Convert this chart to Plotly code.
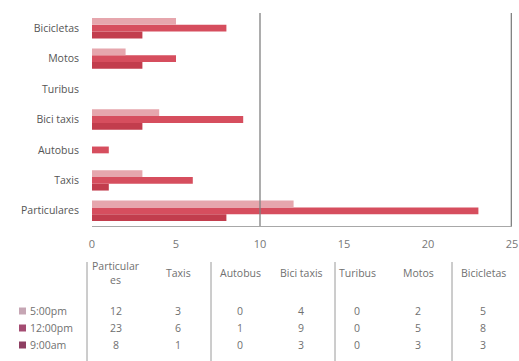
import plotly.graph_objects as go

categories = ["Particulares", "Taxis", "Autobus", "Bici taxis", "Turibus", "Motos", "Bicicletas"]
table_headers = ["Particular<br>es", "Taxis", "Autobus", "Bici taxis", "Turibus", "Motos", "Bicicletas"]
series_names = ["5:00pm", "12:00pm", "9:00am"]
v_5pm = [12, 3, 0, 4, 0, 2, 5]
v_12pm = [23, 6, 1, 9, 0, 5, 8]
v_9am = [8, 1, 0, 3, 0, 3, 3]
x_ticks = [0, 5, 10, 15, 20, 25]

bar_colors = {"5:00pm": "#e6a6ad", "12:00pm": "#d64e5e", "9:00am": "#c23d4d"}
key_colors = {"5:00pm": "#c6a6b4", "12:00pm": "#a44c72", "9:00am": "#8e3f62"}
values = {"5:00pm": v_5pm, "12:00pm": v_12pm, "9:00am": v_9am}

W, H = 519, 361
L, R, T, B = 92, 7, 13, 135
PW, PH = W - L - R, H - T - B

def px(xp):
    return (xp - L) / PW

def py(yp):
    return (H - B - yp) / PH

fig = go.Figure()
for name in ["9:00am", "12:00pm", "5:00pm"]:
    fig.add_trace(go.Bar(
        y=categories, x=values[name], name=name, orientation="h",
        marker=dict(color=bar_colors[name], line=dict(width=0)),
        showlegend=False,
    ))

font_fam = "Open Sans, Liberation Sans, sans-serif"
txt_col = "#6a6a6a"

fig.update_layout(
    width=W, height=H,
    margin=dict(l=L, r=R, t=T, b=B, autoexpand=False),
    paper_bgcolor="white", plot_bgcolor="white",
    barmode="group", bargap=0.33, bargroupgap=0.0,
    font=dict(family=font_fam, size=11, color=txt_col),
    xaxis=dict(range=[0, 25], tickvals=x_ticks, showgrid=False, zeroline=False,
               showline=True, linecolor="#a8a8a8", linewidth=1,
               ticks="", ticklabelstandoff=8, automargin=False,
               tickfont=dict(size=11, color="#777777")),
    yaxis=dict(showgrid=False, zeroline=False, showline=False, ticks="",
               ticklabelstandoff=12, automargin=False,
               tickfont=dict(size=10.5, color="#555555")),
)

# gridlines at 10 and 25 (the latter nudged inside the clip area)
for gx in [10, 24.96]:
    fig.add_shape(type="line", xref="x", yref="paper", x0=gx, x1=gx, y0=0, y1=1.0,
                  layer="above", line=dict(color="#808080", width=1.3))

# data table below
col_centers = [116, 178, 240, 301, 357, 418, 483]
row_y = [311, 328, 345]
header_y = 273

for cx, h in zip(col_centers, table_headers):
    fig.add_annotation(xref="paper", yref="paper", x=px(cx), y=py(header_y), text=h,
                       showarrow=False, font=dict(size=10.5, color="#707070"),
                       xanchor="center", yanchor="middle")

for ry, name in zip(row_y, series_names):
    fig.add_annotation(xref="paper", yref="paper", x=px(28), y=py(ry), text=name,
                       showarrow=False, font=dict(size=10.5, color="#707070"),
                       xanchor="left", yanchor="middle")
    fig.add_shape(type="rect", xref="paper", yref="paper",
                  x0=px(19), x1=px(26), y0=py(ry - 3.5), y1=py(ry + 3.5),
                  fillcolor=key_colors[name], line=dict(width=0))
    for cx, v in zip(col_centers, values[name]):
        fig.add_annotation(xref="paper", yref="paper", x=px(cx), y=py(ry), text=str(v),
                           showarrow=False, font=dict(size=10.5, color="#707070"),
                           xanchor="center", yanchor="middle")

for lx in [87, 211, 335, 452]:
    fig.add_shape(type="line", xref="paper", yref="paper", x0=px(lx), x1=px(lx),
                  y0=py(262), y1=py(361), line=dict(color="#9a9a9a", width=1))

fig.write_html("out.html", config={"displayModeBar": False},
               post_script="document.body.style.margin='0';document.body.style.overflow='hidden';")
